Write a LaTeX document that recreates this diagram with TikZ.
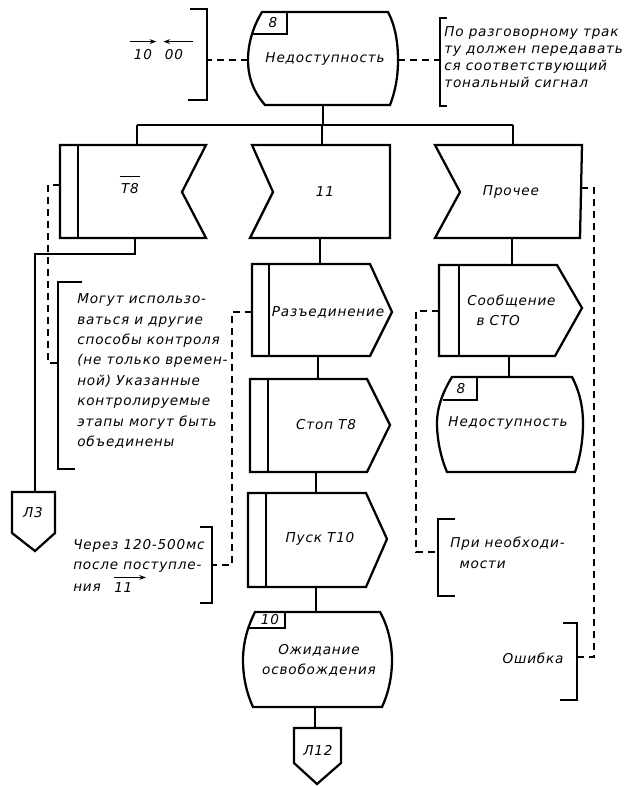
\documentclass[tikz,border=0pt]{standalone}
\usepackage{fontspec}
\setmainfont{DejaVu Sans}[LetterSpace=6]
\usetikzlibrary{arrows.meta}
\begin{document}
\begin{tikzpicture}[x=0.75pt,y=-0.75pt,
  shp/.style={line width=1.7pt, line join=miter},
  conn/.style={line width=0.9pt},
  dconn/.style={line width=1.1pt, dash pattern=on 5.5pt off 3.5pt},
  brk/.style={line width=1.5pt},
  txt/.style={font=\itshape\fontsize{10.2}{15}\selectfont, inner sep=0pt},
  ntxt/.style={font=\itshape\fontsize{10.2}{15.3}\selectfont, inner sep=0pt},
  small/.style={font=\itshape\fontsize{10.2}{12.9}\selectfont, inner sep=0pt},
  arr/.style={line width=0.8pt, -{Stealth[length=5pt,width=3.6pt]}}]
\useasboundingbox (0,0) rectangle (630,786);

% ---------- state: Недоступность (top)
\draw[shp] (262,12) -- (388,12) .. controls (395,25) and (398,42) .. (398,60)
  .. controls (398,78) and (395,92) .. (390,105) -- (265,105)
  .. controls (252,90) and (248,75) .. (248,60)
  .. controls (248,42) and (254,25) .. (262,12) -- cycle;
\draw[shp] (252,34) -- (287,34) -- (287,12);
\node[txt] (s1lab) at (273,23) {8};
\node[txt] (s1) at (325,59) {Недоступность};
\coordinate (s1L) at (248,60);
\coordinate (s1R) at (398,60);
\coordinate (s1B) at (323,105);

% ---------- notes at top
\draw[brk] (190,9) -- (207,9) -- (207,100) -- (188,100);
\coordinate (bk1) at (207,60);
\node[txt] (n10) at (143,55) {10};
\node[txt] (n00) at (174,55) {00};
\draw[arr] ([xshift=-3pt,yshift=6pt]n10.north west) -- ([xshift=3pt,yshift=6pt]n10.north east);
\draw[arr] ([xshift=7pt,yshift=6pt]n00.north east) -- ([xshift=-1pt,yshift=6pt]n00.north west);

\draw[brk] (447,18) -- (440,18) -- (440,106) -- (447,106);
\coordinate (bk2) at (440,60);
\node[small, align=left, anchor=west] (note1) at (444,57)
  {По разговорному трак\\ту должен передавать\\ся соответствующий\\тональный сигнал};

\draw[dconn] (s1L) -- (bk1);
\draw[dconn] (s1R) -- (bk2);

% ---------- bus
\coordinate (bus0) at (323,125);
\coordinate (busA) at (137,125);
\coordinate (busB) at (322,125);
\coordinate (busC) at (513,125);
\draw[conn] (s1B) -- (bus0);
\draw[conn] (busA) -- (busC);

% ---------- input T8
\draw[shp] (60,145) -- (206,145) -- (182,192) -- (206,238) -- (60,238) -- cycle;
\draw[shp] (78,145) -- (78,238);
\node[txt] (t8) at (130,189) {T8};
\draw[line width=0.8pt] ([xshift=-1pt,yshift=5pt]t8.north west) -- ([xshift=1pt,yshift=5pt]t8.north east);
\coordinate (t8T) at (137,145);
\coordinate (t8B) at (135,238);
\coordinate (t8L) at (60,185);

% ---------- input 11
\draw[shp] (252,145) -- (390,145) -- (390,238) -- (250,238) -- (273,192) -- cycle;
\node[txt] (i11) at (325,192) {11};
\coordinate (i11T) at (322,145);
\coordinate (i11B) at (320,238);

% ---------- input Прочее
\draw[shp] (435,145) -- (582,145) -- (580,238) -- (435,238) -- (460,192) -- cycle;
\node[txt] (pr) at (511,192) {Прочее};
\coordinate (prT) at (513,145);
\coordinate (prB) at (512,238);
\coordinate (prR) at (581,188);

\draw[conn] (busA) -- (t8T);
\draw[conn] (busB) -- (i11T);
\draw[conn] (busC) -- (prT);

% ---------- Л3
\draw[shp] (12,492) -- (55,492) -- (55,533) -- (35,551) -- (12,533) -- cycle;
\node[txt] (l3) at (33,513) {Л3};
\coordinate (l3T) at (35,492);
\coordinate (t8c1) at (135,254);
\coordinate (t8c2) at (35,254);
\draw[conn] (t8B) -- (t8c1) -- (t8c2) -- (l3T);

% ---------- left note
\draw[brk] (82,282) -- (58,282) -- (58,469) -- (75,469);
\coordinate (bk3) at (58,363);
\coordinate (t8d1) at (48,185);
\coordinate (t8d2) at (48,363);
\draw[dconn] (t8L) -- (t8d1) -- (t8d2) -- (bk3);
\node[ntxt, align=left, anchor=west] (note2) at (77,371)
  {Могут использо-\\ваться и другие\\способы контроля\\(не только времен-\\ной) Указанные\\контролируемые\\этапы могут быть\\объединены};

% ---------- Разъединение
\draw[shp] (252,264) -- (370,264) -- (392,312) -- (370,356) -- (252,356) -- cycle;
\draw[shp] (269,264) -- (269,356);
\node[txt] (raz) at (328,312) {Разъединение};
\coordinate (razT) at (320,264);
\coordinate (razB) at (318,356);
\coordinate (razL) at (252,312);
\draw[conn] (i11B) -- (razT);

% ---------- Стоп T8
\draw[shp] (250,379) -- (367,379) -- (390,425) -- (367,472) -- (250,472) -- cycle;
\draw[shp] (268,379) -- (268,472);
\node[txt] (stop) at (326,425) {Стоп T8};
\coordinate (stopT) at (318,379);
\coordinate (stopB) at (316,472);
\draw[conn] (razB) -- (stopT);

% ---------- Пуск T10
\draw[shp] (248,493) -- (366,493) -- (387,539) -- (366,587) -- (248,587) -- cycle;
\draw[shp] (266,493) -- (266,587);
\node[txt] (pusk) at (320,539) {Пуск T10};
\coordinate (puskT) at (316,493);
\coordinate (puskB) at (316,587);
\draw[conn] (stopB) -- (puskT);

% ---------- Через note
\draw[brk] (200,527) -- (212,527) -- (212,603) -- (200,603);
\coordinate (bk4) at (212,565);
\coordinate (razd1) at (232,312);
\coordinate (razd2) at (232,565);
\draw[dconn] (razL) -- (razd1) -- (razd2) -- (bk4);
\node[ntxt, align=left, anchor=west] (note3) at (73,556)
  {Через 120-500мс\\после поступле-};
\node[ntxt, anchor=west] (nia) at (73,588) {ния};
\node[ntxt, anchor=west] (n11b) at (114,588) {11};
\draw[arr] ([yshift=4pt]n11b.north west) -- ([xshift=10pt,yshift=4pt]n11b.north east);

% ---------- Ожидание освобождения
\draw[shp] (255,612) -- (380,612) .. controls (388,626) and (392,644) .. (392,660)
  .. controls (392,678) and (388,694) .. (382,707) -- (253,707)
  .. controls (247,694) and (243,678) .. (243,660)
  .. controls (243,642) and (248,626) .. (255,612) -- cycle;
\draw[shp] (249,628) -- (285,628) -- (285,612);
\node[txt] (s3lab) at (270,620) {10};
\node[txt, align=center] (ozh) at (319,660) {Ожидание\\освобождения};
\coordinate (ozhT) at (316,612);
\coordinate (ozhB) at (315,707);
\draw[conn] (puskB) -- (ozhT);

% ---------- Л12
\draw[shp] (294,728) -- (341,728) -- (341,763) -- (317,784) -- (294,763) -- cycle;
\node[txt] (l12) at (318,750) {Л12};
\coordinate (l12T) at (315,728);
\draw[conn] (ozhB) -- (l12T);

% ---------- Сообщение в СТО
\draw[shp] (439,265) -- (557,265) -- (582,308) -- (555,356) -- (439,356) -- cycle;
\draw[shp] (459,265) -- (459,356);
\node[txt, align=left, anchor=west] (soob) at (467,310) {Сообщение\\\hspace*{7pt}в СТО};
\coordinate (soobT) at (512,265);
\coordinate (soobB) at (509,356);
\coordinate (soobL) at (439,311);
\draw[conn] (prB) -- (soobT);

% ---------- Недоступность (second)
\draw[shp] (452,377) -- (572,377) .. controls (579,390) and (583,406) .. (583,423)
  .. controls (583,441) and (580,458) .. (575,472) -- (447,472)
  .. controls (441,458) and (437,440) .. (437,423)
  .. controls (437,406) and (444,390) .. (452,377) -- cycle;
\draw[shp] (443,400) -- (477,400) -- (477,377);
\node[txt] (s2lab) at (461,389) {8};
\node[txt] (s2) at (508,423) {Недоступность};
\coordinate (s2T) at (509,377);
\draw[conn] (soobB) -- (s2T);

% ---------- При необходимости note
\draw[brk] (455,519) -- (438,519) -- (438,596) -- (455,596);
\coordinate (bk5) at (438,552);
\coordinate (sod1) at (416,311);
\coordinate (sod2) at (416,552);
\draw[dconn] (soobL) -- (sod1) -- (sod2) -- (bk5);
\node[ntxt, align=left, anchor=west] (note4) at (450,553) {При необходи-\\\hspace*{7pt}мости};

% ---------- Ошибка
\draw[brk] (563,623) -- (577,623) -- (577,700) -- (560,700);
\coordinate (bk6) at (577,657);
\coordinate (prd1) at (594,188);
\coordinate (prd2) at (594,657);
\draw[dconn] (prR) -- (prd1) -- (prd2) -- (bk6);
\node[txt] (osh) at (533,658) {Ошибка};
\end{tikzpicture}
\end{document}
